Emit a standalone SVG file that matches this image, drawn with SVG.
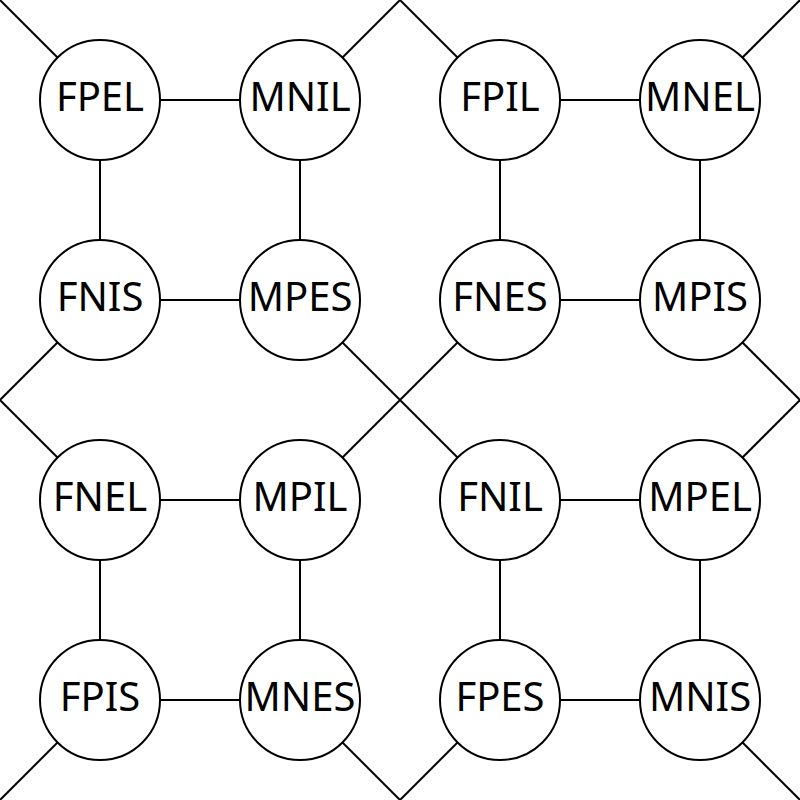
<svg xmlns="http://www.w3.org/2000/svg" width="800" height="800" viewBox="0 0 800 800">
<style>
.e{stroke:#000;stroke-width:2;fill:none}
.n circle{fill:#fff;stroke:#000;stroke-width:2}
.n text{font-family:"Noto Sans","Open Sans",sans-serif;font-size:40px;text-anchor:middle;fill:#000}
</style>
<rect width="800" height="800" fill="#fff"/>
<g id="edges" class="e">
<line x1="100" y1="100" x2="300" y2="100"/><line x1="500" y1="100" x2="700" y2="100"/>
<line x1="100" y1="300" x2="300" y2="300"/><line x1="500" y1="300" x2="700" y2="300"/>
<line x1="100" y1="500" x2="300" y2="500"/><line x1="500" y1="500" x2="700" y2="500"/>
<line x1="100" y1="700" x2="300" y2="700"/><line x1="500" y1="700" x2="700" y2="700"/>
<line x1="100" y1="100" x2="100" y2="300"/><line x1="300" y1="100" x2="300" y2="300"/>
<line x1="500" y1="100" x2="500" y2="300"/><line x1="700" y1="100" x2="700" y2="300"/>
<line x1="100" y1="500" x2="100" y2="700"/><line x1="300" y1="500" x2="300" y2="700"/>
<line x1="500" y1="500" x2="500" y2="700"/><line x1="700" y1="500" x2="700" y2="700"/>
<line x1="100" y1="100" x2="0" y2="0"/>
<line x1="300" y1="100" x2="400" y2="0"/><line x1="500" y1="100" x2="400" y2="0"/>
<line x1="700" y1="100" x2="800" y2="0"/>
<line x1="100" y1="300" x2="0" y2="400"/><line x1="100" y1="500" x2="0" y2="400"/>
<line x1="300" y1="300" x2="500" y2="500"/><line x1="300" y1="500" x2="500" y2="300"/>
<line x1="700" y1="300" x2="800" y2="400"/><line x1="700" y1="500" x2="800" y2="400"/>
<line x1="100" y1="700" x2="0" y2="800"/>
<line x1="300" y1="700" x2="400" y2="800"/><line x1="500" y1="700" x2="400" y2="800"/>
<line x1="700" y1="700" x2="800" y2="800"/>
</g>
<g id="FPEL" class="n"><circle cx="100" cy="100" r="60"/><text x="100" y="111">FPEL</text></g>
<g id="MNIL" class="n"><circle cx="300" cy="100" r="60"/><text x="300" y="111">MNIL</text></g>
<g id="FPIL" class="n"><circle cx="500" cy="100" r="60"/><text x="500" y="111">FPIL</text></g>
<g id="MNEL" class="n"><circle cx="700" cy="100" r="60"/><text x="700" y="111">MNEL</text></g>
<g id="FNIS" class="n"><circle cx="100" cy="300" r="60"/><text x="100" y="311">FNIS</text></g>
<g id="MPES" class="n"><circle cx="300" cy="300" r="60"/><text x="300" y="311">MPES</text></g>
<g id="FNES" class="n"><circle cx="500" cy="300" r="60"/><text x="500" y="311">FNES</text></g>
<g id="MPIS" class="n"><circle cx="700" cy="300" r="60"/><text x="700" y="311">MPIS</text></g>
<g id="FNEL" class="n"><circle cx="100" cy="500" r="60"/><text x="100" y="511">FNEL</text></g>
<g id="MPIL" class="n"><circle cx="300" cy="500" r="60"/><text x="300" y="511">MPIL</text></g>
<g id="FNIL" class="n"><circle cx="500" cy="500" r="60"/><text x="500" y="511">FNIL</text></g>
<g id="MPEL" class="n"><circle cx="700" cy="500" r="60"/><text x="700" y="511">MPEL</text></g>
<g id="FPIS" class="n"><circle cx="100" cy="700" r="60"/><text x="100" y="711">FPIS</text></g>
<g id="MNES" class="n"><circle cx="300" cy="700" r="60"/><text x="300" y="711">MNES</text></g>
<g id="FPES" class="n"><circle cx="500" cy="700" r="60"/><text x="500" y="711">FPES</text></g>
<g id="MNIS" class="n"><circle cx="700" cy="700" r="60"/><text x="700" y="711">MNIS</text></g>
</svg>
